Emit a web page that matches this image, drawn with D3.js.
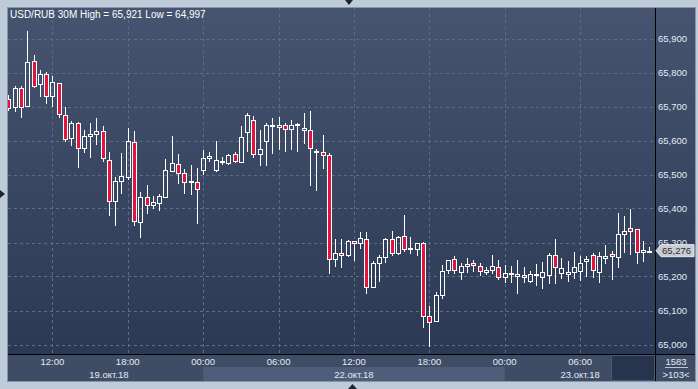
<!DOCTYPE html>
<html lang="en">
<head>
    <meta charset="UTF-8">
    <script src="https://cdn.jsdelivr.net/npm/d3@7"></script>
    <title>USD/RUB 30M</title>
    <style>
        html, body { margin: 0; padding: 0; background: #bfcbd9; }
        svg { display: block; font-family: "Liberation Sans", Arial, sans-serif; }
    </style>
</head>
<body>
    <div id="chart"></div>
    <script>
        // 30 minute candles, 19.10.2018 08:30 .. 23.10.2018 11:30
        const opens = [65.722,65.698,65.754,65.701,65.833,65.765,65.795,65.730,65.768,65.674,
            65.606,65.651,65.577,65.612,65.618,65.627,65.544,65.421,65.480,65.492,
            65.595,65.359,65.433,65.411,65.415,65.434,65.510,65.530,65.504,65.479,
            65.477,65.514,65.548,65.512,65.539,65.535,65.560,65.536,65.624,65.659,
            65.559,65.599,65.642,65.639,65.645,65.635,65.645,65.632,65.630,65.566,
            65.565,65.556,65.252,65.269,65.262,65.304,65.298,65.309,65.170,65.239,
            65.256,65.309,65.270,65.318,65.280,65.282,65.298,65.085,65.068,65.145,
            65.218,65.251,65.214,65.232,65.239,65.232,65.214,65.218,65.227,65.198,
            65.206,65.202,65.199,65.186,65.204,65.199,65.204,65.263,65.211,65.208,
            65.214,65.217,65.246,65.263,65.214,65.255,65.266,65.258,65.326,65.343,
            65.339,65.271,65.274];
        const closes = [65.695,65.755,65.698,65.830,65.761,65.795,65.730,65.771,65.677,65.605,
            65.651,65.577,65.612,65.619,65.627,65.548,65.421,65.481,65.495,65.598,
            65.362,65.433,65.409,65.419,65.436,65.513,65.534,65.504,65.479,65.481,
            65.456,65.548,65.553,65.542,65.541,65.556,65.539,65.609,65.675,65.559,
            65.574,65.646,65.646,65.645,65.633,65.645,65.649,65.636,65.579,65.570,
            65.556,65.251,65.269,65.263,65.304,65.298,65.312,65.170,65.240,65.256,
            65.309,65.270,65.315,65.280,65.284,65.298,65.083,65.065,65.145,65.216,
            65.248,65.218,65.230,65.236,65.233,65.215,65.218,65.230,65.198,65.210,
            65.210,65.206,65.204,65.208,65.207,65.213,65.263,65.227,65.224,65.213,
            65.227,65.240,65.251,65.220,65.260,65.260,65.260,65.325,65.333,65.335,
            65.271,65.278,65.276];
        const highs = [65.734,65.760,65.760,65.921,65.851,65.807,65.801,65.790,65.769,65.699,
            65.656,65.655,65.630,65.651,65.665,65.643,65.566,65.494,65.563,65.637,
            65.628,65.449,65.468,65.438,65.444,65.545,65.614,65.560,65.515,65.528,
            65.518,65.572,65.565,65.599,65.551,65.560,65.565,65.643,65.681,65.673,
            65.631,65.651,65.666,65.669,65.651,65.660,65.652,65.681,65.687,65.576,
            65.617,65.563,65.310,65.310,65.307,65.304,65.331,65.331,65.246,65.263,
            65.314,65.334,65.319,65.381,65.316,65.298,65.302,65.113,65.154,65.234,
            65.249,65.259,65.239,65.254,65.249,65.241,65.227,65.263,65.249,65.233,
            65.231,65.249,65.228,65.216,65.237,65.243,65.270,65.310,65.254,65.246,
            65.273,65.260,65.260,65.268,65.272,65.292,65.275,65.387,65.379,65.399,
            65.339,65.304,65.286];
        const lows = [65.690,65.688,65.670,65.701,65.758,65.732,65.711,65.701,65.669,65.599,
            65.587,65.523,65.567,65.552,65.591,65.540,65.381,65.351,65.446,65.486,
            65.351,65.315,65.388,65.401,65.396,65.433,65.510,65.476,65.446,65.443,
            65.358,65.501,65.540,65.510,65.532,65.530,65.537,65.536,65.570,65.552,
            65.529,65.529,65.564,65.575,65.570,65.575,65.570,65.594,65.470,65.455,
            65.519,65.211,65.231,65.229,65.260,65.249,65.285,65.152,65.168,65.188,
            65.244,65.263,65.265,65.276,65.270,65.263,65.052,64.997,65.068,65.138,
            65.211,65.211,65.194,65.213,65.217,65.205,65.208,65.211,65.194,65.185,
            65.183,65.152,65.183,65.184,65.175,65.166,65.182,65.180,65.196,65.187,
            65.196,65.190,65.201,65.199,65.185,65.240,65.193,65.229,65.271,65.267,
            65.241,65.246,65.273];

        const priceTicks = [65.0, 65.1, 65.2, 65.3, 65.4, 65.5, 65.6, 65.7, 65.8, 65.9];
        const timeTickIdx = [7, 19, 31, 43, 55, 67, 79, 91];
        const timeTickLabels = ["12:00", "18:00", "00:00", "06:00", "12:00", "18:00", "00:00", "06:00"];
        const dateLabels = ["19.окт.18", "22.окт.18", "23.окт.18"];
        const dateLabelIdx = [16, 55, 91];
        const dayBandIdx = [31, 79];

        const symbol = "USD/RUB";
        const period = "30M";
        const highValue = 65.921;
        const lowValue = 64.997;
        const lastPrice = 65.276;
        const barCount = "1583";
        const visibleBars = ">103<";

        const width = 698, height = 389;
        const plot = { left: 8, top: 8, right: 655, bottom: 354 };
        const axisBottom = 381;
        const panelRight = 695;

        const fmt = v => d3.format(".3f")(v).replace(".", ",");
        const px = v => Math.round(v) + 0.5;

        const x = d3.scaleLinear().domain([0, opens.length - 1]).range([8.4, 649.2]);
        const y = d3.scaleLinear().domain([65.0, 65.9]).range([344.5, 38.5]);

        const svg = d3.select("#chart").append("svg")
            .attr("width", width)
            .attr("height", height);

        const defs = svg.append("defs");
        const grad = defs.append("linearGradient")
            .attr("id", "bg").attr("x1", 0).attr("y1", 0).attr("x2", 0).attr("y2", 1);
        grad.append("stop").attr("offset", "0%").attr("stop-color", "#46546f");
        grad.append("stop").attr("offset", "100%").attr("stop-color", "#2b3955");

        defs.append("clipPath").attr("id", "plotClip")
            .append("rect")
            .attr("x", plot.left).attr("y", plot.top)
            .attr("width", plot.right - plot.left).attr("height", plot.bottom - plot.top);

        // outer frame
        svg.append("rect").attr("width", width).attr("height", height).attr("fill", "#bfcbd9");
        svg.append("rect")
            .attr("x", plot.left - 0.5).attr("y", plot.top - 0.5)
            .attr("width", panelRight - plot.left + 1).attr("height", axisBottom - plot.top + 1)
            .attr("fill", "none").attr("stroke", "#8795aa");

        // plot + price panel background
        svg.append("rect")
            .attr("x", plot.left).attr("y", plot.top)
            .attr("width", panelRight - plot.left).attr("height", plot.bottom - plot.top)
            .attr("fill", "url(#bg)");

        // time axis rows
        svg.append("rect")
            .attr("x", plot.left).attr("y", plot.bottom)
            .attr("width", panelRight - plot.left).attr("height", axisBottom - plot.bottom)
            .attr("fill", "#3e4c66");
        svg.append("rect")
            .attr("x", x(dayBandIdx[0])).attr("y", 367)
            .attr("width", x(dayBandIdx[1]) - x(dayBandIdx[0])).attr("height", axisBottom - 367)
            .attr("fill", "#4e5d78");
        svg.append("rect")
            .attr("x", 611.5).attr("y", 355.5)
            .attr("width", plot.right - 612).attr("height", axisBottom - 356)
            .attr("fill", "#27344e").attr("stroke", "#4a5873");

        // grid
        const grid = svg.append("g")
            .attr("stroke", "#5d6c87").attr("stroke-dasharray", "3,3").attr("stroke-width", 1);
        grid.selectAll(".hg").data(priceTicks).enter().append("line")
            .attr("x1", plot.left).attr("x2", plot.right)
            .attr("y1", d => px(y(d))).attr("y2", d => px(y(d)));
        grid.selectAll(".vg").data(timeTickIdx).enter().append("line")
            .attr("y1", plot.top).attr("y2", plot.bottom)
            .attr("x1", d => px(x(d))).attr("x2", d => px(x(d)));

        // candles
        const candles = svg.append("g").attr("clip-path", "url(#plotClip)");
        const bars = d3.range(opens.length).map(i => ({
            i, o: opens[i], h: highs[i], l: lows[i], c: closes[i]
        }));

        bars.forEach(d => {
            const cx = Math.round(x(d.i)) + 0.5;
            const top = Math.round(y(Math.max(d.o, d.c))) + 0.5;
            let bot = Math.round(y(Math.min(d.o, d.c))) + 0.5;
            if (bot - top < 1) bot = top + 1;
            const yh = Math.round(y(d.h)), yl = Math.round(y(d.l));
            if (yh < top) {
                candles.append("line").attr("x1", cx).attr("x2", cx)
                    .attr("y1", yh).attr("y2", top).attr("stroke", "#ffffff");
            }
            if (yl > bot) {
                candles.append("line").attr("x1", cx).attr("x2", cx)
                    .attr("y1", bot).attr("y2", yl + 1).attr("stroke", "#ffffff");
            }
            candles.append("rect")
                .attr("x", cx - 2).attr("y", top)
                .attr("width", 4).attr("height", bot - top)
                .attr("fill", d.c < d.o ? "#e0143c" : "none")
                .attr("stroke", "#ffffff").attr("stroke-width", 1);
        });

        // separators
        svg.append("line")
            .attr("x1", px(plot.right)).attr("x2", px(plot.right))
            .attr("y1", plot.top).attr("y2", axisBottom)
            .attr("stroke", "#000");
        svg.append("line")
            .attr("x1", plot.left).attr("x2", panelRight)
            .attr("y1", px(plot.bottom)).attr("y2", px(plot.bottom))
            .attr("stroke", "#000");

        // price labels
        svg.append("g").selectAll("text").data(priceTicks).enter().append("text")
            .attr("x", 658).attr("y", d => y(d) + 3.5)
            .attr("font-size", 9.5).attr("fill", "#e4ebf3")
            .text(d => fmt(d));

        // last price marker
        const ly = y(lastPrice);
        svg.append("path")
            .attr("d", `M656,${ly} L661,${ly - 6} L694,${ly - 6} L694,${ly + 6} L661,${ly + 6} Z`)
            .attr("fill", "#c9ccd2").attr("stroke", "#e8eaee");
        svg.append("text")
            .attr("x", 662).attr("y", ly + 3.5)
            .attr("font-size", 9.5).attr("fill", "#2a2f38")
            .text(fmt(lastPrice));

        // time labels
        svg.append("g").selectAll("text").data(timeTickIdx).enter().append("text")
            .attr("x", d => x(d)).attr("y", 365)
            .attr("text-anchor", "middle")
            .attr("font-size", 9.5).attr("fill", "#e4ebf3")
            .text((d, i) => timeTickLabels[i]);
        svg.append("g").selectAll("text").data(dateLabelIdx).enter().append("text")
            .attr("x", d => x(d)).attr("y", 377.5)
            .attr("text-anchor", "middle")
            .attr("font-size", 9.5).attr("fill", "#e4ebf3")
            .text((d, i) => dateLabels[i]);

        // bar counter
        svg.append("text").attr("x", 676).attr("y", 365)
            .attr("text-anchor", "middle").attr("font-size", 9.5).attr("fill", "#e4ebf3")
            .text(barCount);
        svg.append("line").attr("x1", 665).attr("x2", 688).attr("y1", 367.5).attr("y2", 367.5)
            .attr("stroke", "#b8c2d0");
        svg.append("text").attr("x", 676).attr("y", 377.5)
            .attr("text-anchor", "middle").attr("font-size", 9.5).attr("fill", "#e4ebf3")
            .text(visibleBars);

        // title
        svg.append("text").attr("x", 10).attr("y", 18)
            .attr("font-size", 10).attr("fill", "#ffffff")
            .text(`${symbol} ${period}  High = ${fmt(highValue)} Low = ${fmt(lowValue)}`);

        // scroll arrows
        svg.append("path").attr("d", "M345,0 L353,0 L349,5 Z").attr("fill", "#1e2430");
        svg.append("path").attr("d", "M0,190 L0,198 L5,194 Z").attr("fill", "#1e2430");
        svg.append("path").attr("d", "M348,389 L357,389 L352.5,384 Z").attr("fill", "#1e2430");
    </script>
</body>
</html>
